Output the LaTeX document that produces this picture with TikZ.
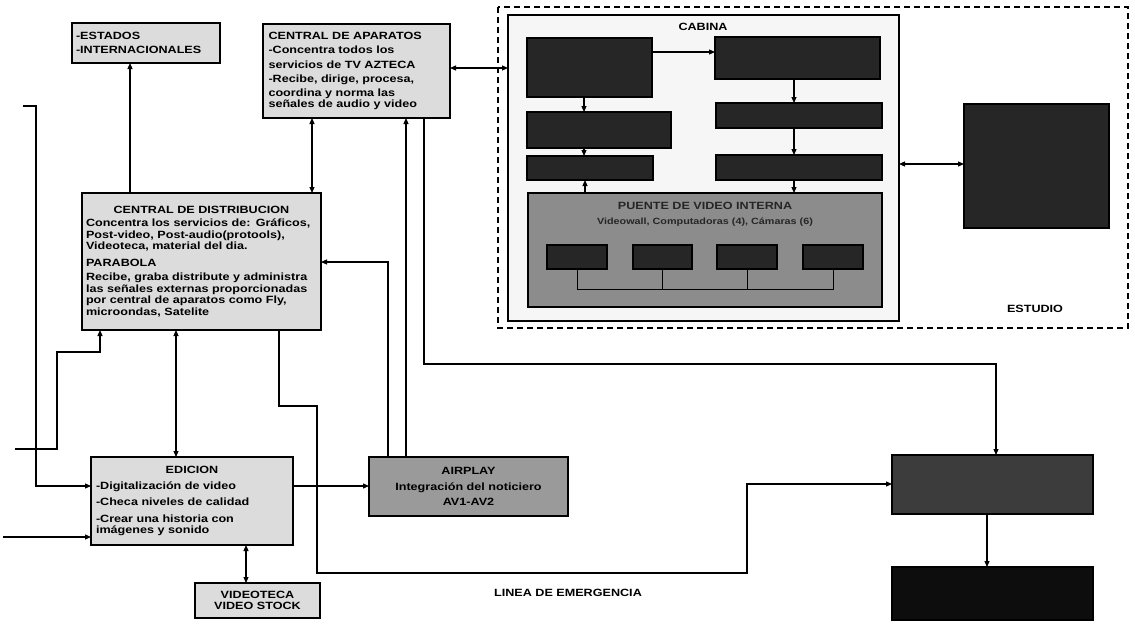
\documentclass[tikz,border=0pt]{standalone}
\usepackage{fontspec}
\setmainfont{Liberation Sans}[FakeStretch=1.2]
\usetikzlibrary{arrows.meta}
\definecolor{lightbox}{HTML}{DCDCDC}
\definecolor{midbox}{HTML}{9A9A9A}
\definecolor{puentebox}{HTML}{8C8C8C}
\definecolor{darkbox}{HTML}{262626}
\definecolor{cabinafill}{HTML}{F6F6F6}
\definecolor{blackbox}{HTML}{0D0D0D}
\tikzset{
  bx/.style={draw=black, line width=1.3pt, inner sep=0pt, outer sep=0pt, font=\bfseries\fontsize{10.5}{11.5}\selectfont},
  lbox/.style={bx, fill=lightbox},
  dbox/.style={bx, fill=darkbox},
  conn/.style={line width=1.1pt, draw=black},
  arr/.style={conn, -{Triangle[length=6pt,width=5pt]}},
  darr/.style={conn, {Triangle[length=6pt,width=5pt]}-{Triangle[length=6pt,width=5pt]}},
  lbl/.style={font=\bfseries\fontsize{10.5}{11.5}\selectfont, inner sep=0pt}
}
\begin{document}
\begin{tikzpicture}[x=1pt,y=-1pt]
\useasboundingbox (0,0) rectangle (1135,625);
\fill[white] (0,0) rectangle (1135,625);

% dashed studio frame and cabina
\draw[line width=1.2pt, dash pattern=on 6pt off 4pt] (498,7) rectangle (1128,328);
\node[bx, fill=cabinafill, minimum width=391pt, minimum height=306pt] (cabina) at (703.5,168) {};
\node[lbl] (cabinat) at (703,27) {CABINA};
\node[lbl] (estudiot) at (1035,309) {ESTUDIO};

% cabina inner boxes
\node[dbox, minimum width=125pt, minimum height=59pt] (ca) at (589.5,67.5) {};
\node[dbox, minimum width=165pt, minimum height=42pt] (cb) at (797.5,58) {};
\node[dbox, minimum width=144pt, minimum height=36pt] (cc) at (599,130) {};
\node[dbox, minimum width=126pt, minimum height=24pt] (cd) at (590,168) {};
\node[dbox, minimum width=166pt, minimum height=25pt] (ce) at (799,115.5) {};
\node[dbox, minimum width=166pt, minimum height=25pt] (cf) at (799,167.5) {};
\node[bx, fill=puentebox, minimum width=354pt, minimum height=114pt] (puente) at (705,250) {};
\node[lbl, text=black!85] (puentet) at (705,206) {PUENTE DE VIDEO INTERNA};
\node[lbl, text=black!85, font=\bfseries\fontsize{9}{10}\selectfont] (puentes) at (705,222) {Videowall, Computadoras (4), Cámaras (6)};
\node[dbox, minimum width=60pt, minimum height=24pt] (p1) at (577,257) {};
\node[dbox, minimum width=59pt, minimum height=24pt] (p2) at (662.5,257) {};
\node[dbox, minimum width=60pt, minimum height=24pt] (p3) at (747,257) {};
\node[dbox, minimum width=60pt, minimum height=24pt] (p4) at (833,257) {};
\coordinate (bus1) at (577,289);
\coordinate (bus4) at (833,289);
\draw[conn, line width=0.9pt] (p1.south) -- (bus1) -- (bus4) -- (p4.south);
\draw[conn, line width=0.9pt] (p2.south) -- (p2.south |- bus1);
\draw[conn, line width=0.9pt] (p3.south) -- (p3.south |- bus1);

\draw[arr] (ca.east |- 0,52) -- (cb.west |- 0,52);
\draw[arr] (ca.south -| 584,0) -- (cc.north -| 584,0);
\draw[arr] (cc.south -| 584,0) -- (cd.north -| 584,0);
\draw[arr] (puente.north -| 585,0) -- (cd.south -| 585,0);
\draw[arr] (cb.south -| 794,0) -- (ce.north -| 794,0);
\draw[arr] (ce.south -| 794,0) -- (cf.north -| 794,0);
\draw[arr] (cf.south -| 794,0) -- (puente.north -| 794,0);

% estudio box
\node[dbox, minimum width=145pt, minimum height=124pt] (estudio) at (1036.5,166) {};
\draw[darr] (cabina.east |- 0,164) -- (estudio.west |- 0,164);

% left side boxes
\node[lbox, minimum width=148pt, minimum height=40pt, text width=140pt, align=left] (estados) at (146,43) {-ESTADOS\\[3pt]-INTERNACIONALES};
\node[lbox, minimum width=187pt, minimum height=94pt, text width=176pt, align=left] (aparatos) at (356.5,71) {CENTRAL DE APARATOS\\[3pt]-Concentra todos los\\[3pt]servicios de TV AZTECA\\[3pt]-Recibe, dirige, procesa,\\[2pt]coordina y norma las\\señales de audio y video};
\node[lbox, minimum width=239pt, minimum height=137pt, text width=231pt, align=left] (dist) at (201.5,261.5) {\centerline{CENTRAL DE DISTRIBUCION}\\[2pt]Concentra los servicios de: Gráficos,\\Post-video, Post-audio(protools),\\Videoteca, material del dia.\\[5pt]PARABOLA\\[3pt]Recibe, graba distribute y administra\\las señales externas proporcionadas\\por central de aparatos como Fly,\\microondas, Satelite};
\node[lbox, minimum width=202pt, minimum height=88pt, text width=192pt, align=left] (edicion) at (192,501) {\centerline{EDICION}\\[4pt]-Digitalización de video\\[5pt]-Checa niveles de calidad\\[5pt]-Crear una historia con\\imágenes y sonido};
\node[lbox, minimum width=125pt, minimum height=35pt, align=center] (videoteca) at (257.5,600.5) {VIDEOTECA\\VIDEO STOCK};
\node[bx, fill=midbox, minimum width=199pt, minimum height=59pt, align=center] (airplay) at (468.5,486.5) {AIRPLAY\\[4pt]Integración del noticiero\\[4pt]AV1-AV2};

% right bottom boxes
\node[bx, fill=darkbox!90, minimum width=201pt, minimum height=59pt] (gbox) at (992.5,484.5) {};
\node[bx, fill=blackbox, minimum width=201pt, minimum height=53pt] (hbox) at (992.5,593.5) {};
\draw[arr] (gbox.south -| 987,0) -- (hbox.north -| 987,0);

\node[lbl] (emerg) at (568,593) {LINEA DE EMERGENCIA};

% connectors
\draw[arr] (dist.north -| 130,0) -- (estados.south -| 130,0);
\draw[darr] (aparatos.south -| 312,0) -- (dist.north -| 312,0);
\draw[darr] (aparatos.east |- 0,68) -- (cabina.west |- 0,68);
\draw[arr] (airplay.north -| 388,0) -- (388,262) -- (dist.east |- 0,262);
\draw[arr] (airplay.north -| 406,0) -- (aparatos.south -| 406,0);
\draw[arr] (aparatos.south -| 424,0) -- (424,364) -- (996,364) -- (gbox.north -| 996,0);
\draw[arr] (dist.south -| 279,0) -- (279,406) -- (317,406) -- (317,573) -- (747,573) -- (747,484) -- (gbox.west |- 0,484);
\draw[darr] (dist.south -| 176,0) -- (edicion.north -| 176,0);
\draw[darr] (edicion.south -| 246,0) -- (videoteca.north -| 246,0);
\draw[arr] (edicion.east |- 0,486) -- (airplay.west |- 0,486);
\coordinate (l1) at (23,106);
\coordinate (l2) at (15,449);
\coordinate (l3) at (3,537);
\draw[arr] (l1) -- (36,106) -- (36,486) -- (edicion.west |- 0,486);
\draw[arr] (l2) -- (57,449) -- (57,352) -- (100,352) -- (dist.south -| 100,0);
\draw[arr] (l3) -- (edicion.west |- l3);
\end{tikzpicture}
\end{document}
